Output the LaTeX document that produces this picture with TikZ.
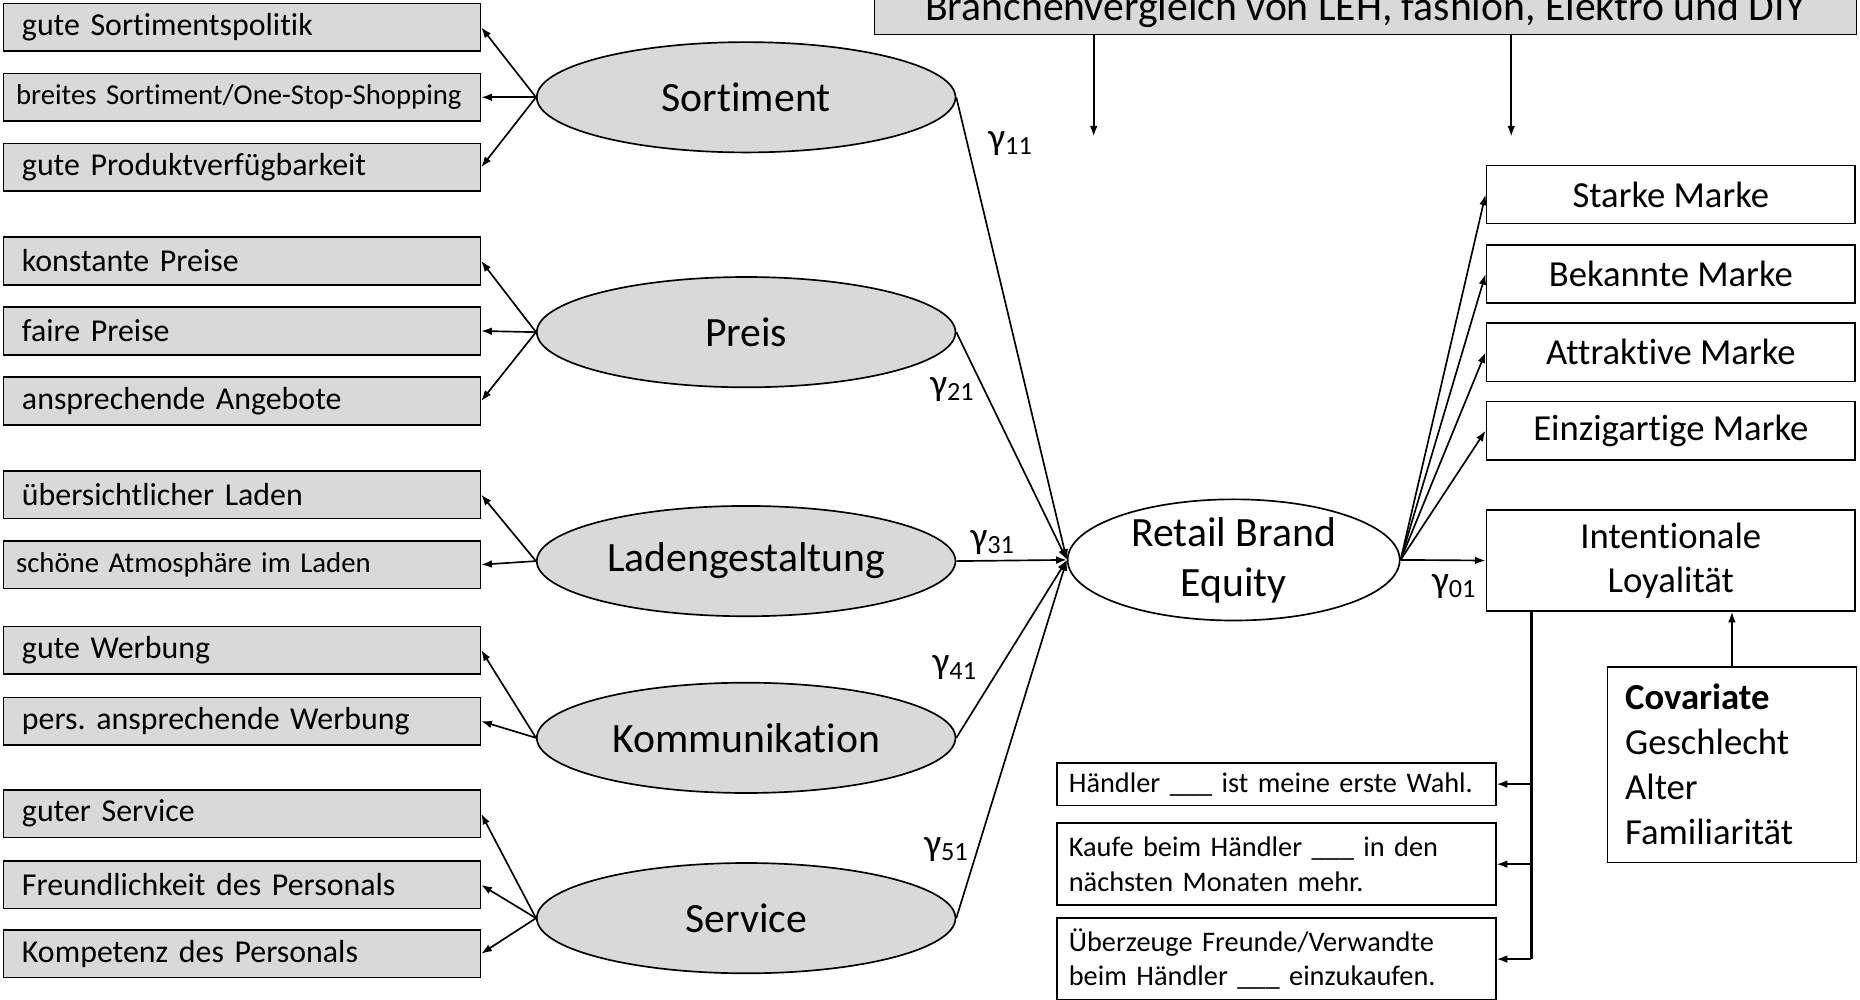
\documentclass[tikz,border=0pt]{standalone}
\usepackage{fontspec}
\setmainfont{Carlito}[Ligatures=NoCommon]
\usetikzlibrary{shapes.geometric,arrows.meta}

\definecolor{boxgray}{RGB}{217,217,217}
\frenchspacing

\tikzset{
	indicator/.style={draw, fill=boxgray, line width=0.8pt, minimum height=0.8cm, text width=7.42cm, inner xsep=0.31cm, inner ysep=0pt, align=left, font=\fontsize{15.3}{18}\selectfont},
	smallind/.style={text width=7.62cm, inner xsep=0.21cm, font=\fontsize{13.8}{16}\selectfont},
	latent/.style={ellipse, draw, fill=boxgray, line width=0.8pt, minimum width=7.06cm, minimum height=1.86cm, inner sep=0pt, align=center, font=\fontsize{20}{24}\selectfont},
	brandbox/.style={draw, line width=0.8pt, minimum width=6.22cm, minimum height=0.98cm, inner sep=0pt, align=center, font=\fontsize{17.6}{21}\selectfont},
	itembox/.style={draw, line width=0.8pt, text width=7.0cm, inner xsep=0.2cm, inner ysep=0pt, align=left, font=\fontsize{13.6}{16.5}\selectfont},
	coef/.style={inner sep=0pt, font=\fontsize{18}{20}\selectfont},
	effect/.style={->, line width=0.8pt}
}

\begin{document}
\begin{tikzpicture}[x=0.02cm, y=-0.02cm, >={Latex[length=0.18cm,width=0.13cm]}]
	\clip (0,0) rectangle (1568,843);

	% manifest items of the five drivers
	\foreach \n/\y/\txt in {sp1/23/gute Sortimentspolitik, sp3/141/gute Produktverfügbarkeit,
		pr1/220/konstante Preise, pr2/279/faire Preise, pr3/338/ansprechende Angebote,
		la1/417/übersichtlicher Laden, ko1/548/gute Werbung, ko2/608/pers. ansprechende Werbung,
		se1/686/guter Service, se2/746/Freundlichkeit des Personals, se3/804/Kompetenz des Personals}
		\node[indicator] (\n) at (204,\y) {\txt};
	\node[indicator, smallind] (sp2) at (204,82) {breites Sortiment/One-Stop-Shopping};
	\node[indicator, smallind] (la2) at (204,476) {schöne Atmosphäre im Laden};

	% latent drivers
	\foreach \n/\y/\txt in {sort/82/Sortiment, preis/280/Preis, laden/473/Ladengestaltung, komm/622/Kommunikation, serv/774/Service}
		\node[latent] (\n) at (629,\y) {\txt};

	\foreach \a/\b in {sort/sp1, sort/sp2, sort/sp3, preis/pr1, preis/pr2, preis/pr3, laden/la1, laden/la2, komm/ko1, komm/ko2, serv/se1, serv/se2, serv/se3}
		\draw[effect] (\a.west) -- (\b.east);

	\node[latent, fill=white, minimum width=5.6cm, minimum height=1.96cm] (rbe) at (1040,472) {Retail Brand\\Equity};
	\foreach \a in {sort, preis, laden, komm, serv}
		\draw[effect] (\a.east) -- (rbe.west);

	% outcome side
	\foreach \n/\y/\txt in {m1/164/Starke Marke, m2/231/Bekannte Marke, m3/297/Attraktive Marke, m4/363/Einzigartige Marke}
		\node[brandbox] (\n) at (1408.5,\y) {\txt};
	\node[brandbox, minimum height=1.7cm] (loy) at (1408.5,472.5) {Intentionale\\Loyalität};
	\foreach \b in {m1, m2, m3, m4, loy}
		\draw[effect] (rbe.east) -- (\b.west);

	\foreach \n/\x/\y/\i in {g11/852/121/11, g21/803/328/21, g31/837/457/31, g41/805/563/41, g51/798/716/51, g01/1226/494/01}
		\node[coef] (\n) at (\x,\y) {γ\textsubscript{\i}};

	\node[draw, line width=0.8pt, minimum width=4.2cm, minimum height=3.3cm, text width=3.6cm, inner xsep=0.3cm, align=left, font=\fontsize{17.6}{21.6}\selectfont] (cov) at (1460,644.5) {\textbf{Covariate}\\Geschlecht\\Alter\\Familiarität};
	\draw[effect] (cov.north) -- (cov.north |- loy.south);

	\node[itembox, minimum height=0.72cm] (s1) at (1076,661) {Händler \_\_\_ ist meine erste Wahl.};
	\node[itembox, minimum height=1.38cm] (s2) at (1076,728.5) {Kaufe beim Händler \_\_\_ in den\\nächsten Monaten mehr.};
	\node[itembox, minimum height=1.38cm] (s3) at (1076,808.5) {Überzeuge Freunde/Verwandte\\beim Händler \_\_\_ einzukaufen.};

	\coordinate (tr) at (1291,0);
	\draw[line width=1.5pt] (loy.south -| tr) -- (tr |- s3.east);
	\foreach \s in {s1, s2, s3}
		\draw[effect] (tr |- \s.east) -- (\s.east);

	% moderator box, cut at the top edge
	\node[draw, fill=boxgray, line width=0.8pt, minimum width=16.56cm, text depth=0.24cm, inner ysep=0pt, anchor=base, font=\fontsize{20}{24}\selectfont] (title) at (1151,17) {Branchenvergleich von LEH, fashion, Elektro und DIY};
	\coordinate (d1) at (922,115);
	\coordinate (d2) at (1274,115);
	\draw[effect] (title.south -| d1) -- (d1);
	\draw[effect] (title.south -| d2) -- (d2);
\end{tikzpicture}
\end{document}
